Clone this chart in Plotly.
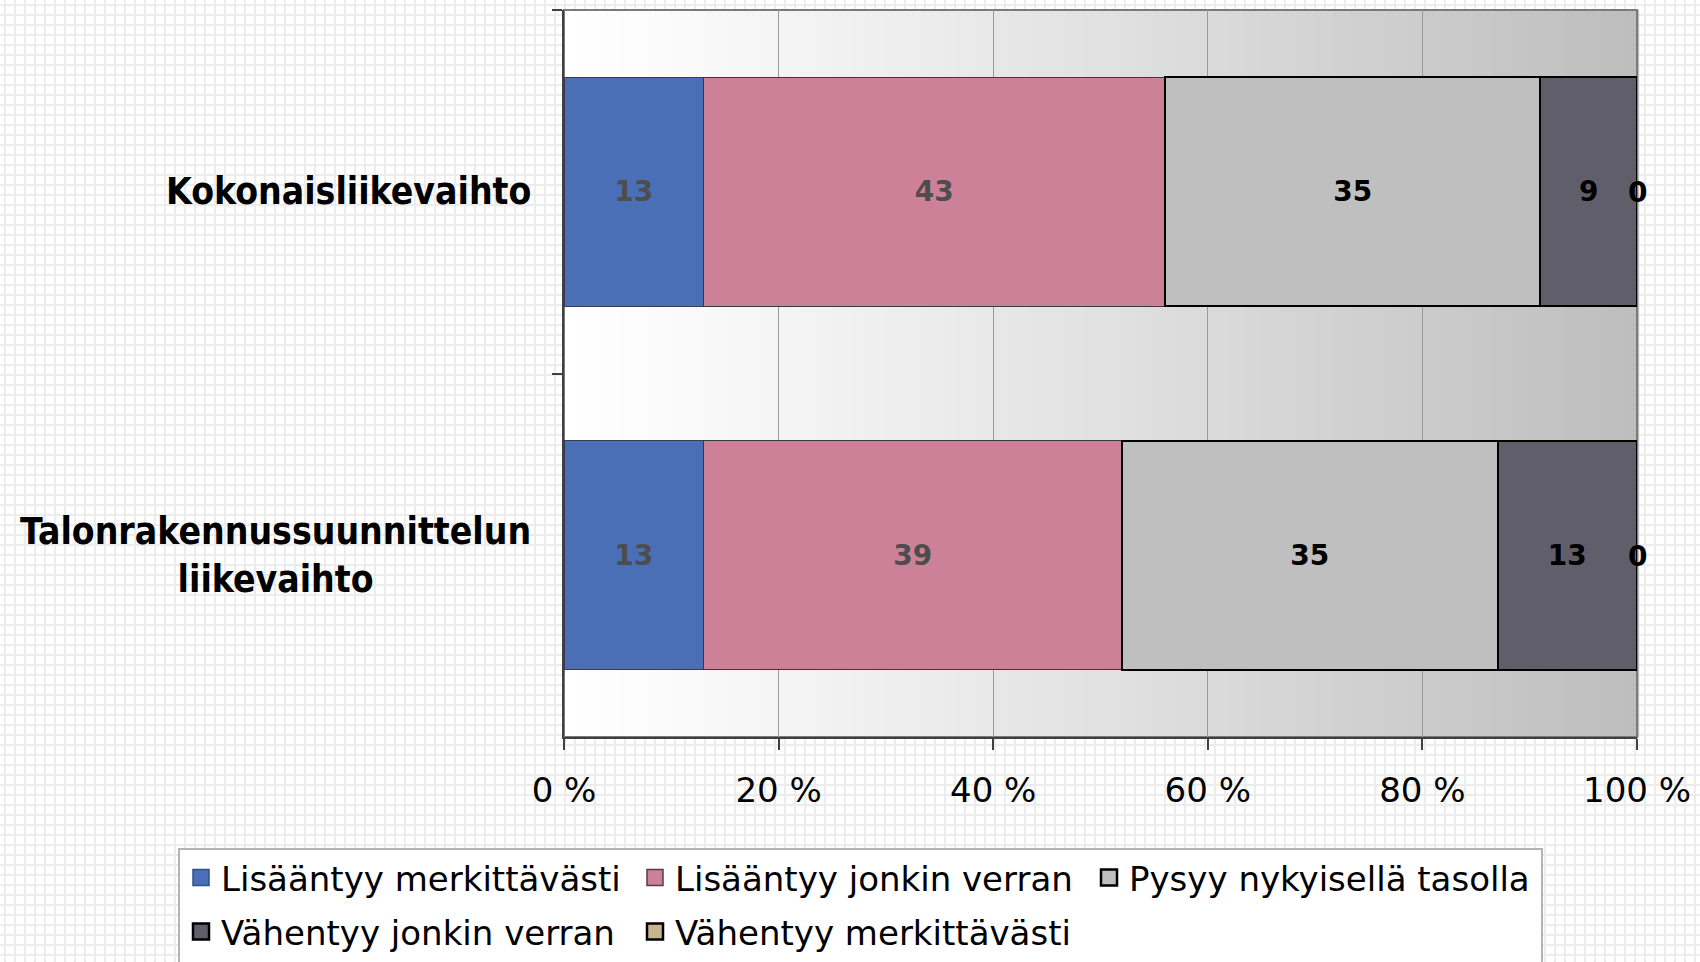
import plotly.graph_objects as go

# ---------------- data ----------------
categories = ["Kokonaisliikevaihto", "Talonrakennussuunnittelun liikevaihto"]
category_labels = ["Kokonaisliikevaihto", "Talonrakennussuunnittelun<br>liikevaihto"]
series_names = [
    "Lisääntyy merkittävästi",
    "Lisääntyy jonkin verran",
    "Pysyy nykyisellä tasolla",
    "Vähentyy jonkin verran",
    "Vähentyy merkittävästi",
]
lisaantyy_merkittavasti = [13, 13]
lisaantyy_jonkin_verran = [43, 39]
pysyy_nykyisella_tasolla = [35, 35]
vahentyy_jonkin_verran = [9, 13]
vahentyy_merkittavasti = [0, 0]
x_tick_values = [0, 20, 40, 60, 80, 100]
x_tick_labels = ["0 %", "20 %", "40 %", "60 %", "80 %", "100 %"]

series_values = [
    lisaantyy_merkittavasti,
    lisaantyy_jonkin_verran,
    pysyy_nykyisella_tasolla,
    vahentyy_jonkin_verran,
    vahentyy_merkittavasti,
]

# ---------------- styles ----------------
colors = ["#4a6fb6", "#cd8199", "#bfbfbf", "#615e6b", "#c9b48f"]
outline_colors = ["#3a3a50", "#3a3a3a", "#000000", "#000000", "#000000"]
outline_widths = [1, 1, 2, 2, 2]
legend_outline_colors = ["#2f4f8f", "#5a3a46", "#000000", "#000000", "#000000"]
legend_outline_widths = [1.5, 1.5, 2.5, 2.5, 2.5]
label_colors = ["#4d4d4d", "#4d4d4d", "#000000", "#000000", "#000000"]
legend_of_series = ["legend", "legend", "legend", "legend2", "legend2"]
FONT = "DejaVu Sans"
FONT_COND = "DejaVu Sans Condensed, DejaVu Sans"

W, H = 1700, 962
ML, MR, MT, MB = 564, 63, 10, 225
PW, PH = W - ML - MR, H - MT - MB


def px_to_paper_x(px):
    return (px - ML) / PW


def px_to_paper_y(py):
    return (H - MB - py) / PH


fig = go.Figure()

for i, name in enumerate(series_names):
    vals = series_values[i]
    is_last = i == len(series_names) - 1
    fig.add_trace(go.Bar(
        name=name,
        orientation="h",
        x=vals,
        y=categories,
        showlegend=False,
        legendgroup=name,
        marker=dict(color=colors[i], line=dict(color=outline_colors[i], width=outline_widths[i])),
        text=None if is_last else [str(v) for v in vals],
        textposition="inside",
        insidetextanchor="middle",
        textangle=0,
        textfont=dict(family=FONT, size=28, color=label_colors[i], weight="bold"),
        hoverinfo="x+name",
    ))

# legend entries (square swatches like the original)
for i, name in enumerate(series_names):
    fig.add_trace(go.Scatter(
        name=name,
        x=[None], y=[None],
        mode="markers",
        legend=legend_of_series[i],
        legendgroup=name,
        marker=dict(symbol="square", size=16, color=colors[i],
                    line=dict(color=legend_outline_colors[i], width=legend_outline_widths[i])),
        hoverinfo="skip",
    ))

# ---------------- background decorations ----------------
shapes = []
path_parts = []
for gx in range(5, W + 10, 10):
    path_parts.append(f"M{px_to_paper_x(gx):.5f},{px_to_paper_y(0):.5f}V{px_to_paper_y(H):.5f}")
for gy in range(5, H + 10, 10):
    path_parts.append(f"M{px_to_paper_x(0):.5f},{px_to_paper_y(gy):.5f}H{px_to_paper_x(W):.5f}")
shapes.append(dict(type="path", xref="paper", yref="paper", path="".join(path_parts),
                   line=dict(color="#ececec", width=2), layer="below"))

# legend box
shapes.append(dict(type="rect", xref="paper", yref="paper",
                   x0=px_to_paper_x(179), x1=px_to_paper_x(1542),
                   y0=px_to_paper_y(849), y1=px_to_paper_y(980),
                   fillcolor="#ffffff", line=dict(color="#b4b4b4", width=2), layer="below"))

# horizontal gradient in plot area
n_strips = 60
for k in range(n_strips):
    t0 = k / n_strips
    t1 = (k + 1) / n_strips
    tm = (t0 + t1) / 2
    c = int(round(255 - 66 * (tm ** 1.15)))
    shapes.append(dict(type="rect", xref="x domain", yref="y domain",
                       x0=t0, x1=t1 + 0.002, y0=0, y1=1,
                       fillcolor=f"rgb({c},{c},{c})", line=dict(width=0), layer="below"))
# plot area frame (top/right gray)
shapes.append(dict(type="rect", xref="x domain", yref="y domain", x0=0, x1=1, y0=0, y1=1,
                   line=dict(color="#7a7a7a", width=2), fillcolor="rgba(0,0,0,0)", layer="below"))

annotations = []
for cat, lab in zip(categories, category_labels):
    annotations.append(dict(
        x=0, xref="paper", y=cat, yref="y", xanchor="right", yanchor="middle",
        xshift=-31, text=lab, showarrow=False, align="center",
        font=dict(family=FONT_COND, size=37, color="#000000", weight="bold"),
    ))

# labels for the zero-valued last series, placed at the stacked total
totals = [sum(s[j] for s in series_values) for j in range(len(categories))]
for cat, tot, v in zip(categories, totals, vahentyy_merkittavasti):
    annotations.append(dict(
        x=tot, xref="x", y=cat, yref="y", xanchor="center", yanchor="middle",
        yshift=-1, text=str(v), showarrow=False,
        font=dict(family=FONT, size=28, color="#000000", weight="bold"),
    ))

legend_common = dict(
    orientation="h",
    x=px_to_paper_x(181), xanchor="left",
    yanchor="top",
    bgcolor="rgba(0,0,0,0)",
    borderwidth=0,
    font=dict(family=FONT, size=34, color="#000000"),
    entrywidth=409,
    traceorder="normal",
    itemclick=False, itemdoubleclick=False,
)

fig.update_layout(
    width=W, height=H,
    margin=dict(l=ML, r=MR, t=MT, b=MB, autoexpand=False),
    paper_bgcolor="#ffffff",
    plot_bgcolor="rgba(0,0,0,0)",
    barmode="stack",
    bargap=0.37,
    shapes=shapes,
    annotations=annotations,
    xaxis=dict(
        range=[0, 100],
        tickvals=x_tick_values,
        ticktext=x_tick_labels,
        showgrid=True, gridcolor="#9a9a9a", gridwidth=1,
        showline=True, linecolor="#404040", linewidth=2,
        ticks="outside", ticklen=11, tickwidth=2, tickcolor="#404040",
        tickfont=dict(family=FONT, size=34, color="#000000"),
        ticklabelstandoff=11,
        zeroline=False,
        fixedrange=True,
    ),
    yaxis=dict(
        type="category",
        autorange="reversed",
        tickson="boundaries",
        ticks="outside", ticklen=10, tickwidth=2, tickcolor="#404040",
        showticklabels=False,
        showgrid=False,
        showline=True, linecolor="#404040", linewidth=2,
        zeroline=False,
        fixedrange=True,
    ),
    legend=dict(legend_common, y=px_to_paper_y(849)),
    legend2=dict(legend_common, y=px_to_paper_y(903)),
    showlegend=True,
)

fig.write_html("out.html", config={"displayModeBar": False},
               post_script="document.body.style.margin='0';")
